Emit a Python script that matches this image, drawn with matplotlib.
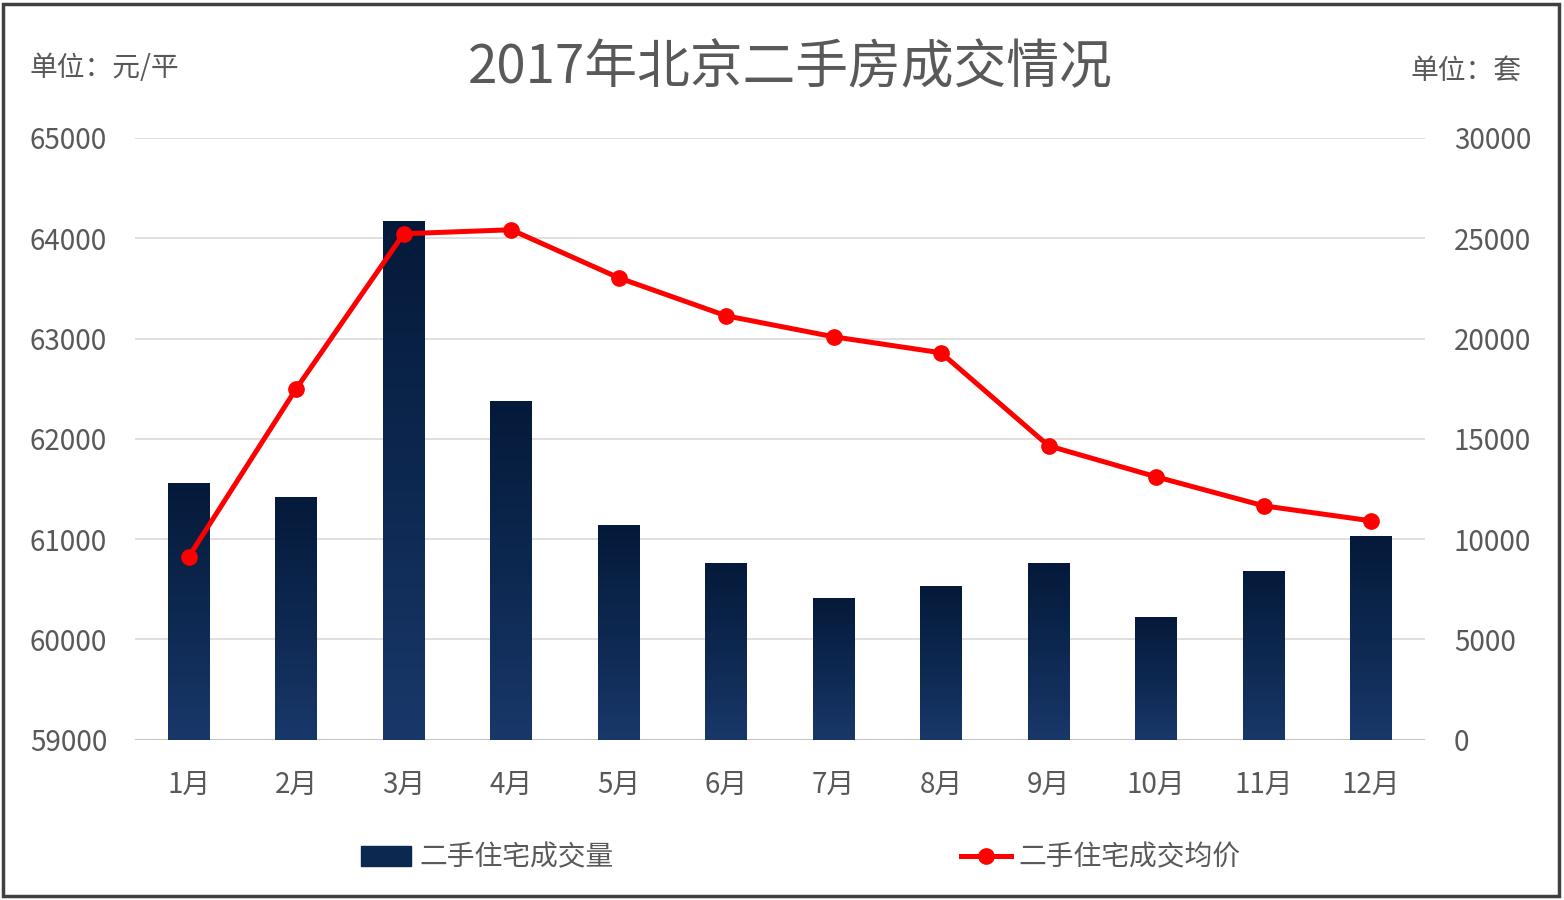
import numpy as np
import matplotlib.pyplot as plt
from matplotlib.lines import Line2D
from matplotlib.patches import Patch, Rectangle

plt.rcParams['font.family'] = ['Noto Sans CJK SC', 'DejaVu Sans']

months = ['1月', '2月', '3月', '4月', '5月', '6月', '7月', '8月', '9月', '10月', '11月', '12月']
volume = [12800, 12100, 25860, 16900, 10700, 8800, 7070, 7670, 8800, 6130, 8420, 10160]
price = [60824, 62500, 64045, 64085, 63606, 63227, 63018, 62858, 61931, 61622, 61333, 61183]

gray = '#595959'

fig = plt.figure(figsize=(15.64, 9), dpi=100)
ax = fig.add_axes([0.0863, 0.178, 0.8247, 0.6687])
ax2 = ax.twinx()

x = np.arange(len(months))

# bars on right axis, drawn with a vertical gradient
bars = ax2.bar(x, volume, width=0.39, color='#0d2850', zorder=1)
grad = np.linspace(0, 1, 256).reshape(-1, 1)
cmap = plt.matplotlib.colors.LinearSegmentedColormap.from_list('nav', ['#19386a', '#0d2850', '#051a3a'])
for b in bars:
    bx, bw, bh = b.get_x(), b.get_width(), b.get_height()
    im = ax2.imshow(grad, extent=[bx, bx + bw, 0, bh], aspect='auto', cmap=cmap,
                    origin='lower', zorder=2)
    im.set_clip_path(b)
    b.set_facecolor('none')

ax2.set_ylim(0, 30000)
ax2.set_yticks(np.arange(0, 30001, 5000))
ax.set_ylim(59000, 65000)
ax.set_yticks(np.arange(59000, 65001, 1000))
ax.set_xlim(-0.5, len(months) - 0.5)

# line on left axis, drawn above the bars
ax.set_zorder(ax2.get_zorder() + 1)
ax.patch.set_visible(False)
ax.plot(x, price, color='#ff0000', lw=3.6, marker='o', ms=11, zorder=5)

# grid drawn on the bar axis so it sits behind bars
for v in np.arange(5000, 30001, 5000):
    ax2.axhline(v, color='#d9d9d9', lw=1.2, zorder=0)
ax2.axhline(0, color='#bfbfbf', lw=1.3, zorder=0)

for a in (ax, ax2):
    for s in a.spines.values():
        s.set_visible(False)
    a.tick_params(length=0, labelsize=20, labelcolor=gray)

ax.set_xticks(x)
ax.set_xticklabels(months)
ax.tick_params(axis='x', pad=22)
ax.tick_params(axis='y', pad=20)
ax2.tick_params(axis='y', pad=21)

fig.text(0.505, 0.925, '2017年北京二手房成交情况', ha='center', va='center', fontsize=38, color=gray)
fig.text(0.019, 0.924, '单位：元/平', ha='left', va='center', fontsize=20, color=gray)
fig.text(0.973, 0.921, '单位：套', ha='right', va='center', fontsize=20, color=gray)

handles = [Patch(facecolor='#0d2850', edgecolor='#0d2850'),
           Line2D([0], [0], color='#ff0000', lw=3.6, marker='o', ms=11)]
fig.legend(handles, ['二手住宅成交量', '二手住宅成交均价'], loc='center', bbox_to_anchor=(0.512, 0.047),
           ncol=2, frameon=False, fontsize=20, labelcolor=gray, columnspacing=12.5,
           handlelength=1.8, handletextpad=0.3)

fig.add_artist(Rectangle((0.002, 0.004), 0.995, 0.992, transform=fig.transFigure,
                         fill=False, edgecolor='#404040', lw=2.5))

fig.savefig('out.png', dpi=100)
